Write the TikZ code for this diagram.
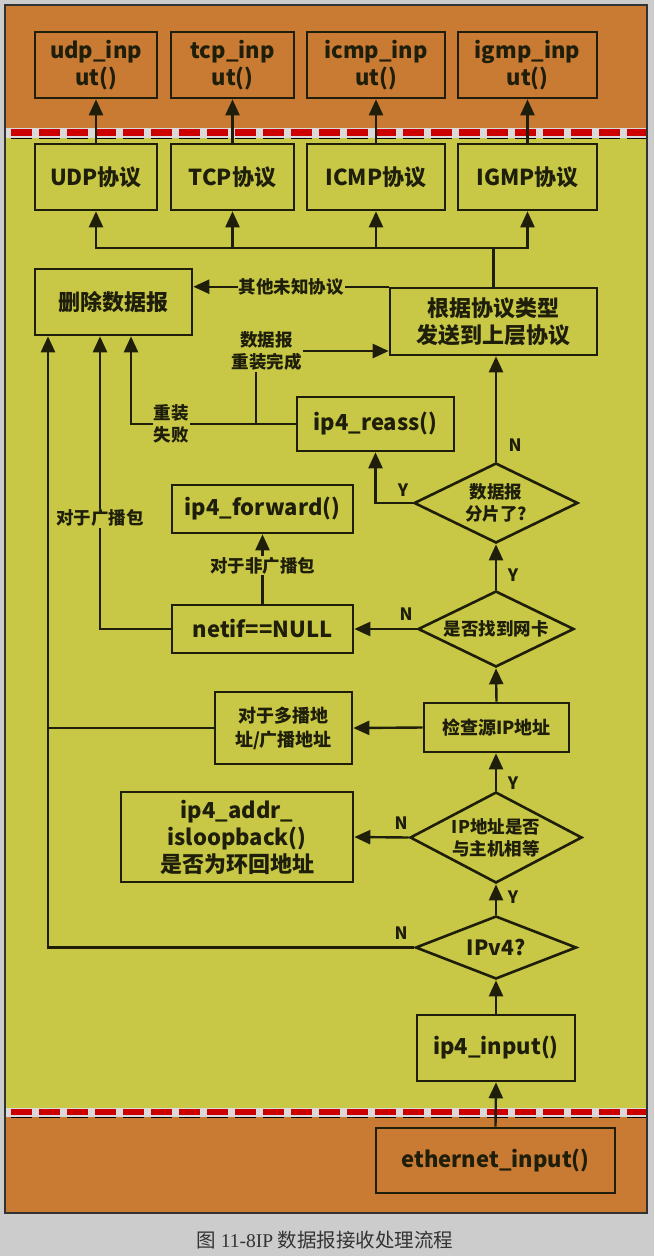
\documentclass[tikz,border=0pt]{standalone}
\usepackage{fontspec}
\setmainfont{Noto Sans CJK SC}
\newfontfamily\capserif{Liberation Serif}
\usetikzlibrary{shapes.geometric,arrows.meta,calc}
\definecolor{orng}{RGB}{201,123,52}
\definecolor{yell}{RGB}{200,200,70}
\definecolor{ink}{RGB}{30,30,10}
\definecolor{dred}{RGB}{204,0,0}
\definecolor{outgray}{RGB}{204,204,204}
\definecolor{bandc}{RGB}{218,218,218}
\definecolor{shade}{RGB}{165,150,45}
\definecolor{frm}{RGB}{50,50,50}
\definecolor{capc}{RGB}{51,51,51}
\begin{document}
\begin{tikzpicture}[x=1pt,y=-1pt,
  bx/.style={draw=ink,line width=2.6pt,inner sep=0pt,align=center,text=ink,font=\bfseries\fontsize{22}{27}\selectfont},
  smf/.style={font=\bfseries\fontsize{18}{24}\selectfont},
  dm/.style={diamond,draw=ink,line width=2.6pt,inner sep=0pt,aspect=2,align=center,text=ink,font=\bfseries\fontsize{17.5}{22}\selectfont},
  arr/.style={draw=ink,line width=2.4pt,-{Triangle[length=16pt,width=14pt]}},
  ln/.style={draw=ink,line width=2.4pt},
  lbl/.style={fill=yell,inner sep=1pt,align=center,text=ink,font=\bfseries\fontsize{17.5}{22}\selectfont},
  yn/.style={text=ink,font=\bfseries\fontsize{17}{20}\selectfont,inner sep=0pt},
  dashline/.style={dash pattern=on 21pt off 7pt,dash phase=22pt}
]
\fill[outgray] (0,0) rectangle (654,1256);
\useasboundingbox (0,0) rectangle (654,1256);
\fill[orng] (5,5) rectangle (647,133);
\fill[yell] (5,133) rectangle (647,1112);
\fill[orng] (5,1112) rectangle (647,1213);
% separators
\draw[shade,line width=4pt,dashline] (5,137) -- (647,137);
\draw[bandc,line width=10pt] (5,133) -- (647,133);
\draw[dred,line width=7pt,dashline] (5,132.5) -- (647,132.5);
\draw[shade,line width=4pt,dashline] (5,1116) -- (647,1116);
\draw[bandc,line width=9pt] (5,1112.5) -- (647,1112.5);
\draw[dred,line width=6.5pt,dashline] (5,1112) -- (647,1112);
\draw[frm,line width=1.5pt] (5,5) rectangle (647,1213);

% top row
\node[bx,minimum width=122pt,minimum height=66pt] (udpin) at (96,65) {udp\_inp\\ut()};
\node[bx,minimum width=123pt,minimum height=66pt] (tcpin) at (232.5,65) {tcp\_inp\\ut()};
\node[bx,minimum width=138pt,minimum height=66pt] (icmpin) at (376,65) {icmp\_inp\\ut()};
\node[bx,minimum width=139pt,minimum height=66pt] (igmpin) at (527.5,65) {igmp\_inp\\ut()};
% protocols
\node[bx,minimum width=122pt,minimum height=66pt] (udp) at (96,177) {UDP协议};
\node[bx,minimum width=123pt,minimum height=66pt] (tcp) at (232.5,177) {TCP协议};
\node[bx,minimum width=138pt,minimum height=66pt] (icmp) at (376,177) {ICMP协议};
\node[bx,minimum width=139pt,minimum height=66pt] (igmp) at (527.5,177) {IGMP协议};

\node[bx,minimum width=157pt,minimum height=66pt] (drop) at (113.5,302) {删除数据报};
\node[bx,minimum width=207pt,minimum height=67pt] (proto) at (493.5,321.5) {根据协议类型\\发送到上层协议};
\node[bx,minimum width=157pt,minimum height=54pt] (reass) at (375.5,424) {ip4\_reass()};
\node[dm,minimum width=164pt,minimum height=80pt] (frag) at (496,503) {数据报\\分片了?};
\node[bx,minimum width=181pt,minimum height=48pt] (fwd) at (262.5,509) {ip4\_forward()};
\node[bx,minimum width=181pt,minimum height=48pt] (netif) at (262.5,629) {netif==NULL};
\node[dm,minimum width=156pt,minimum height=76pt] (nic) at (496,629) {是否找到网卡};
\node[bx,smf,minimum width=145pt,minimum height=49pt] (chk) at (496.5,727.5) {检查源IP地址};
\node[bx,smf,minimum width=137pt,minimum height=72pt] (mc) at (283.5,728) {对于多播地\\址/广播地址};
\node[dm,minimum width=172pt,minimum height=91pt] (host) at (496,837.5) {IP地址是否\\与主机相等};
\node[bx,minimum width=232pt,minimum height=90pt] (lb) at (237,837) {ip4\_addr\_\\isloopback()\\是否为环回地址};
\node[dm,minimum width=161pt,minimum height=63pt,font=\bfseries\fontsize{21}{24}\selectfont] (ipv4) at (496,947.5) {IPv4?};
\node[bx,minimum width=158pt,minimum height=66pt] (in) at (496,1048) {ip4\_input()};
\node[bx,minimum width=239pt,minimum height=65pt] (eth) at (495.5,1160.5) {ethernet\_input()};

% helper coordinates
\coordinate (busY) at (0,248);
\coordinate (Lx) at ($(drop.south)+(-65.5,0)$);
\coordinate (Bx) at ($(drop.south)+(-13.5,0)$);
\coordinate (Rx) at ($(drop.south)+(17.5,0)$);
\coordinate (J) at (256,424);

% connectors
\foreach \a/\b in {udp/udpin,tcp/tcpin,icmp/icmpin,igmp/igmpin}
  \draw[arr] (\a.north) -- (\b.south);
\foreach \a in {udp,tcp,icmp,igmp}
  \draw[arr] (proto.north) -- (proto.north |- busY) -| (\a.south);
\draw[arr] (proto.north west) -- (proto.north west -| drop.east) node[lbl,midway] (unk) {其他未知协议};

\node[lbl,fill=none] (rl) at (266.5,351) {数据报\\重装完成};
\draw[arr] (reass.west) -| (Rx);
\draw[ln] (J) -- (J |- rl.south);
\draw[arr] (rl.east) -- (rl.east -| proto.west);
\node[lbl] (fail) at (171,424) {重装\\失败};

\draw[arr] (frag.north) -- (frag.north |- proto.south);
\node[yn] (n1) at (515,445) {N};
\draw[arr] (frag.west) -| (reass.south);
\node[yn] (y1) at (403,490) {Y};

\draw[arr] (netif.north) -- (fwd.south) node[lbl,pos=0.55] (nb) {对于非广播包};
\draw[arr] (netif.west) -| (Bx);
\node[lbl] (bc) at (100,518) {对于广播包};

\draw[arr] (nic.north) -- (frag.south);
\node[yn] (y2) at (513,575) {Y};
\draw[arr] (nic.west) -- (netif.east);
\node[yn] (n2) at (406,614) {N};

\draw[arr] (chk.north) -- (nic.south);
\draw[arr] (chk.west) -- (mc.east);
\draw[ln] (mc.west) -- (mc.west -| Lx);

\draw[arr] (host.north) -- (host.north |- chk.south);
\node[yn] (y3) at (513,783) {Y};
\draw[arr] (host.west) -- (lb.east);
\node[yn] (n3) at (401,823) {N};

\draw[arr] (ipv4.north) -- (host.south);
\node[yn] (y4) at (513,897) {Y};
\draw[arr] (ipv4.west) -| (Lx);
\node[yn] (n4) at (401,933) {N};

\draw[arr] (in.north) -- (ipv4.south);
\draw[arr] (eth.north) -- (in.south);

\node[text=capc,font=\fontsize{19.5}{22}\selectfont,inner sep=0pt] (cap) at (325,1240) {图 {\capserif 11-8IP} 数据报接收处理流程};
\end{tikzpicture}
\end{document}
